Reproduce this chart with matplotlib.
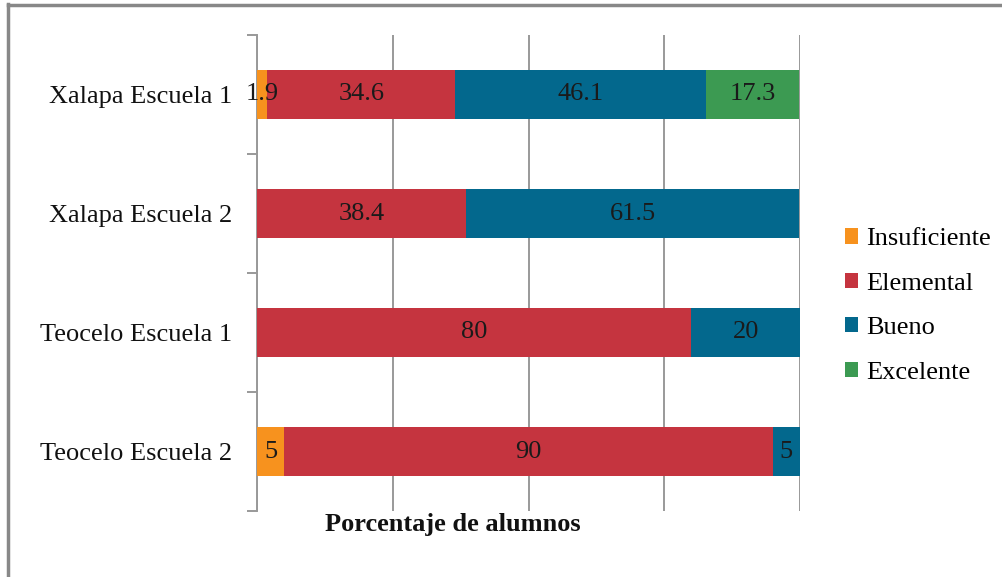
import matplotlib
matplotlib.use("Agg")
import matplotlib.pyplot as plt
from matplotlib.lines import Line2D
from matplotlib.patches import Patch
import numpy as np

categories = ["Xalapa Escuela 1", "Xalapa Escuela 2", "Teocelo Escuela 1", "Teocelo Escuela 2"]
series_names = ["Insuficiente", "Elemental", "Bueno", "Excelente"]
insuficiente = [1.9, 0, 0, 5]
elemental = [34.6, 38.4, 80, 90]
bueno = [46.1, 61.5, 20, 5]
excelente = [17.3, 0, 0, 0]
label_insuficiente = ["1.9", "", "", "5"]
label_elemental = ["34.6", "38.4", "80", "90"]
label_bueno = ["46.1", "61.5", "20", "5"]
label_excelente = ["17.3", "", "", ""]
xlabel = "Porcentaje de alumnos"

colors = ["#F7921E", "#C5343F", "#03688D", "#3C9A52"]

plt.rcParams['font.family'] = ['Liberation Serif', 'DejaVu Serif']

fig = plt.figure(figsize=(10.03, 5.77), dpi=100)
ax = fig.add_axes([257/1003, 1-511/577, (800-257)/1003, (511-35)/577])

series = [insuficiente, elemental, bueno, excelente]
labels = [label_insuficiente, label_elemental, label_bueno, label_excelente]
y = np.arange(len(categories))
left = np.zeros(len(categories))
for vals, lbls, col, name in zip(series, labels, colors, series_names):
    vals = np.array(vals, dtype=float)
    ax.barh(y, vals, left=left, height=0.41, color=col, label=name, zorder=3)
    for i, (v, l) in enumerate(zip(vals, lbls)):
        if l:
            ax.text(left[i] + v/2, y[i], l, ha="center", va="center",
                    fontsize=19, color="#1a1a1a", zorder=4)
    left += vals

ax.set_xlim(0, 100)
ax.set_ylim(3.5, -0.5)
ax.set_xticks([0, 25, 50, 75, 100])
ax.set_xticklabels([])
ax.tick_params(axis="x", length=0)
ax.xaxis.grid(True, color="#999999", linewidth=1.4, zorder=0)
ax.set_yticks(y)
ax.set_yticklabels(categories, fontsize=19, color="#111111")
ax.tick_params(axis="y", which="major", length=0, pad=18)
ax.set_yticks([-0.5, 0.5, 1.5, 2.5, 3.5], minor=True)
ax.tick_params(axis="y", which="minor", length=7, width=1.4, color="#999999")
for s in ["top", "right", "bottom"]:
    ax.spines[s].set_visible(False)
ax.spines["left"].set_color("#999999")
ax.spines["left"].set_linewidth(1.4)

fig.text(453/1003, 1-524/577, xlabel, ha="center", va="center",
         fontsize=19, fontweight="bold", color="#111111")

handles = [Patch(facecolor=c, edgecolor="none") for c in colors]
leg = fig.legend(handles, series_names, loc="center left",
                 bbox_to_anchor=(821/1003, 1-306/577), frameon=False,
                 fontsize=19, handlelength=0.5, handleheight=0.5,
                 handletextpad=0.3, labelspacing=0.85)

# figure border (top and left)
fig.add_artist(Line2D([8.5/1003, 8.5/1003], [0, 1-4/577], transform=fig.transFigure,
                      color="#888888", linewidth=2.5))
fig.add_artist(Line2D([8/1003, 1], [1-4.5/577, 1-4.5/577], transform=fig.transFigure,
                      color="#888888", linewidth=2.5))

fig.savefig("out.png", dpi=100)
